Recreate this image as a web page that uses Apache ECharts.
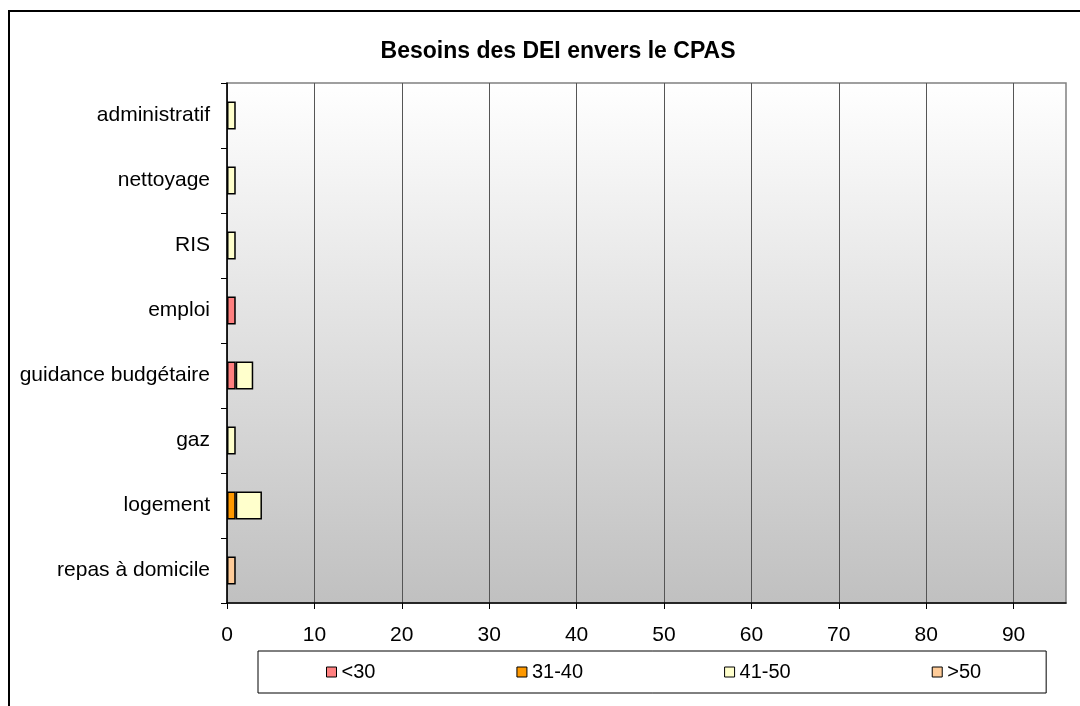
<!DOCTYPE html>
<html>
<head>
<meta charset="utf-8">
<script src="https://cdn.jsdelivr.net/npm/echarts@6/dist/echarts.min.js"></script>
<style>
  html, body { margin: 0; padding: 0; background: #fff; }
  #chart { width: 1080px; height: 706px; }
</style>
</head>
<body>
<div id="chart"></div>
<script>
// categories, top to bottom
const categories = ['administratif', 'nettoyage', 'RIS', 'emploi', 'guidance budgétaire', 'gaz', 'logement', 'repas à domicile'];
// age groups (null = no bar)
const lt30 = [null, null, null, 1, 1, null, null, null];
const age31_40 = [null, null, null, null, null, null, 1, null];
const age41_50 = [1, 1, 1, null, 2, 1, 3, null];
const gt50 = [null, null, null, null, null, null, null, 1];
const xTicks = [0, 10, 20, 30, 40, 50, 60, 70, 80, 90];

const chart = echarts.init(document.getElementById('chart'));

function bar(name, data, color) {
    return {
        name: name,
        type: 'bar',
        stack: 'total',
        data: data,
        barWidth: 28,
        itemStyle: { color: color, borderColor: '#000', borderWidth: 1.5 },
    };
}

const option = {
    animation: false,
    textStyle: { fontFamily: 'Liberation Sans, Arial, sans-serif' },
    title: {
        text: 'Besoins des DEI envers le CPAS',
        left: 553,
        top: 35,
        textAlign: 'center',
        textStyle: { fontSize: 23, fontWeight: 'bold', color: '#000' },
    },
    graphic: [{
        type: 'rect',
        shape: { x: 9, y: 11, width: 1100, height: 720 },
        style: { fill: 'none', stroke: '#000', lineWidth: 2 },
        silent: true,
    }],
    legend: {
        left: 258,
        top: 651,
        padding: [11, 65, 11, 68],
        itemGap: 141,
        itemWidth: 10,
        itemHeight: 10,
        borderColor: '#000',
        borderWidth: 1,
        icon: 'rect',
        itemStyle: { borderColor: '#000', borderWidth: 1 },
        textStyle: { fontSize: 20, color: '#000' },
    },
    grid: {
        left: 227,
        right: 14,
        top: 83,
        bottom: 103,
        show: true,
        borderColor: '#808080',
        borderWidth: 1.5,
        backgroundColor: new echarts.graphic.LinearGradient(0, 0, 0, 1, [
            { offset: 0, color: '#ffffff' },
            { offset: 1, color: '#c0c0c0' },
        ]),
    },
    xAxis: {
        type: 'value',
        min: 0,
        max: 96,
        interval: 10,
        axisLine: { show: true, lineStyle: { color: '#000', width: 1.5 } },
        axisTick: { show: true, length: 6, lineStyle: { color: '#000' }, customValues: xTicks },
        axisLabel: { fontSize: 21, color: '#000', margin: 22, customValues: xTicks },
        splitLine: { show: true, lineStyle: { color: '#555', width: 1 } },
    },
    yAxis: {
        type: 'category',
        inverse: true,
        data: categories,
        axisLine: { show: true, lineStyle: { color: '#000', width: 1.5 } },
        axisTick: { show: true, length: 6, lineStyle: { color: '#000' } },
        axisLabel: { fontSize: 21, color: '#000', margin: 17 },
    },
    series: [
        bar('<30', lt30, '#ff8080'),
        bar('31-40', age31_40, '#ff9900'),
        bar('41-50', age41_50, '#ffffcc'),
        bar('>50', gt50, '#ffcc99'),
    ],
};

chart.setOption(option);
</script>
</body>
</html>
